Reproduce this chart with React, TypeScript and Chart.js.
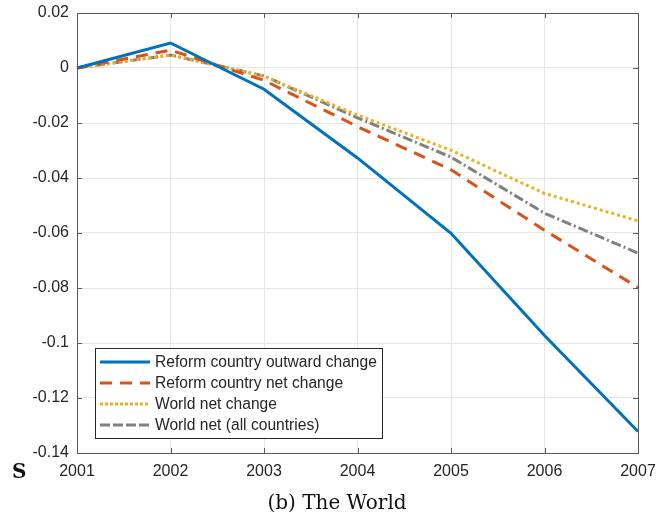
import React, { useEffect, useRef } from "react";
import { Chart, registerables } from "chart.js";

Chart.register(...registerables);

const years = ["2001", "2002", "2003", "2004", "2005", "2006", "2007"];
const reformOutward = [0, 0.0091, -0.0077, -0.0327, -0.0601, -0.0973, -0.1322];
const reformNet = [0, 0.0065, -0.0045, -0.0213, -0.037, -0.059, -0.0798];
const worldNet = [0, 0.0047, -0.003, -0.0171, -0.0299, -0.0456, -0.0556];
const worldAll = [0, 0.0047, -0.0029, -0.0181, -0.0324, -0.0528, -0.0673];

const seriesLabels = [
  "Reform country outward change",
  "Reform country net change",
  "World net change",
  "World net (all countries)",
];
const seriesColors = ["#0072BD", "#D95319", "#EDB120", "#808080"];
const seriesDashes: number[][] = [[], [12, 8], [3, 3], [10, 3, 2, 3]];
const legendDashes: number[][] = [[], [12, 8], [3, 2], [10, 3]];

const yMin = -0.14;
const yMax = 0.02;
const yStep = 0.02;

const FONT = "'Liberation Sans', Arial, sans-serif";
const AXIS_COLOR = "#5a5a5a";

const boxPlugin = {
  id: "matlabBox",
  afterDraw(chart: any) {
    const { ctx, chartArea } = chart;
    const { left, right, top, bottom } = chartArea;
    ctx.save();
    ctx.strokeStyle = AXIS_COLOR;
    ctx.lineWidth = 1;
    const xs = chart.scales.x;
    const ys = chart.scales.y;
    for (let i = 0; i < years.length; i++) {
      const px = Math.round(xs.getPixelForValue(i)) + 0.5;
      ctx.beginPath();
      ctx.moveTo(px, bottom);
      ctx.lineTo(px, bottom - 5);
      ctx.moveTo(px, top);
      ctx.lineTo(px, top + 5);
      ctx.stroke();
    }
    ys.ticks.forEach((t: any) => {
      const py = Math.round(ys.getPixelForValue(t.value)) + 0.5;
      ctx.beginPath();
      ctx.moveTo(left, py);
      ctx.lineTo(left + 5, py);
      ctx.moveTo(right, py);
      ctx.lineTo(right - 5, py);
      ctx.stroke();
    });
    ctx.strokeStyle = AXIS_COLOR;
    ctx.strokeRect(Math.round(left) + 0.5, Math.round(top) + 0.5, Math.round(right - left), Math.round(bottom - top));

    // legend
    const lx = 95.5;
    const ly = 348.5;
    const lw = 287;
    const lh = 90;
    ctx.fillStyle = "#ffffff";
    ctx.fillRect(lx, ly, lw, lh);
    ctx.strokeStyle = "#262626";
    ctx.lineWidth = 1;
    ctx.strokeRect(lx, ly, lw, lh);
    ctx.font = `15.6px ${FONT}`;
    ctx.textBaseline = "middle";
    ctx.textAlign = "left";
    const rows = [362, 383, 404, 425];
    chart.data.datasets.forEach((ds: any, i: number) => {
      const y = rows[i];
      ctx.strokeStyle = ds.borderColor;
      ctx.lineWidth = 3;
      ctx.setLineDash(legendDashes[i]);
      ctx.beginPath();
      ctx.moveTo(100, y);
      ctx.lineTo(150, y);
      ctx.stroke();
      ctx.setLineDash([]);
      ctx.fillStyle = "#262626";
      ctx.fillText(ds.label, 155, y + 1);
    });
    ctx.restore();
  },
};

export default function App() {
  const canvasRef = useRef<HTMLCanvasElement | null>(null);

  useEffect(() => {
    if (!canvasRef.current) return;
    const seriesData = [reformOutward, reformNet, worldNet, worldAll];
    const chart = new Chart(canvasRef.current, {
      type: "line",
      data: {
        labels: years,
        datasets: seriesData.map((d, i) => ({
          label: seriesLabels[i],
          data: d,
          borderColor: seriesColors[i],
          backgroundColor: seriesColors[i],
          borderWidth: 3,
          borderDash: seriesDashes[i],
          pointRadius: 0,
          tension: 0,
          fill: false,
          borderCapStyle: "butt",
        })),
      },
      options: {
        responsive: false,
        animation: false,
        layout: { padding: { top: 13, right: 19, left: 0, bottom: 0 } },
        plugins: {
          legend: { display: false },
          tooltip: { enabled: false },
        },
        scales: {
          x: {
            type: "category",
            offset: false,
            grid: { color: "#e6e6e6", drawTicks: false },
            border: { display: false },
            ticks: {
              color: "#262626",
              font: { family: FONT, size: 16 },
              padding: 9,
              maxRotation: 0,
            },
            afterFit(scale: any) {
              scale.height = 68;
              scale.paddingLeft = 0;
              scale.paddingRight = 0;
            },
          },
          y: {
            min: yMin,
            max: yMax,
            grid: { color: "#e6e6e6", drawTicks: false },
            border: { display: false },
            ticks: {
              stepSize: yStep,
              color: "#262626",
              font: { family: FONT, size: 16 },
              padding: 8,
              callback: (v: any) => {
                const n = parseFloat(Number(v).toFixed(2));
                return n === 0 ? "0" : String(n);
              },
            },
            afterFit(scale: any) {
              scale.width = 77;
              scale.paddingTop = 0;
              scale.paddingBottom = 0;
            },
          },
        },
      },
      plugins: [boxPlugin],
    });
    return () => chart.destroy();
  }, []);

  return (
    <div style={{ position: "absolute", left: 0, top: 0, width: 657, height: 521, background: "#fff" }}>
      <canvas ref={canvasRef} width={657} height={521} style={{ display: "block" }} />
      <div
        style={{
          position: "absolute",
          left: 12,
          top: 459,
          fontFamily: "'DejaVu Serif', serif",
          fontSize: 20,
          fontWeight: "bold",
          color: "#111",
          lineHeight: "24px",
        }}
      >
        S
      </div>
      <div
        style={{
          position: "absolute",
          left: 0,
          width: 674,
          top: 490,
          textAlign: "center",
          fontFamily: "'DejaVu Serif', serif",
          fontSize: 20,
          color: "#111",
          lineHeight: "24px",
        }}
      >
        (b) The World
      </div>
    </div>
  );
}
